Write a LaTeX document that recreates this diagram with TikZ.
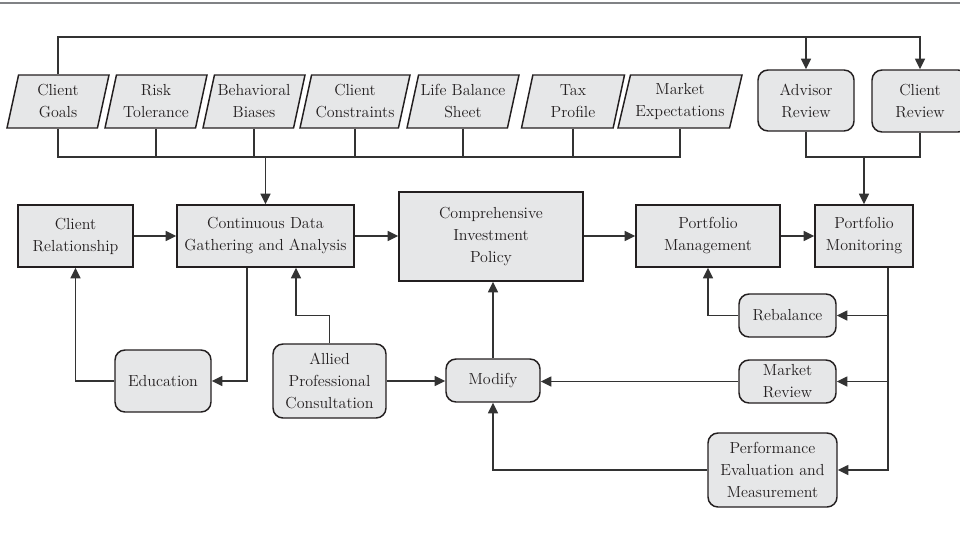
\documentclass[tikz,border=0pt]{standalone}
\usepackage{tikz}
\usetikzlibrary{positioning,shapes.geometric,arrows.meta}
\definecolor{boxfill}{HTML}{E6E7E8}
\definecolor{ink}{HTML}{231F20}
\definecolor{wire}{HTML}{333333}
\definecolor{rule}{HTML}{808285}
\newlength{\pixel}\setlength{\pixel}{0.75pt}

\begin{document}
\begin{tikzpicture}[x=0.75pt,y=-0.75pt,>={Triangle[length=8pt,width=7.5pt]},font=\fontsize{12}{16.5}\selectfont]
  \tikzstyle{box}=[draw=ink,line width=1.1pt,fill=boxfill,text=ink,align=center,inner sep=0pt]
  \tikzstyle{soft}=[box,rounded corners=7.5pt]
  \tikzstyle{slant}=[box,trapezium,trapezium left angle=71,trapezium right angle=109,trapezium stretches body,minimum height=53\pixel]
  \tikzstyle{link}=[draw=wire,line width=1.1pt]

  \useasboundingbox (0,0) rectangle (960,539);
  \draw[rule,line width=2pt] (0,3) -- (960,3);

  \node[slant,minimum width=102\pixel] (goals) at (58,101.5) {Client\\Goals};
  \node[slant,minimum width=102\pixel] (risk) at (156,101.5) {Risk\\Tolerance};
  \node[slant,minimum width=102\pixel] (behav) at (254,101.5) {Behavioral\\Biases};
  \node[slant,minimum width=110\pixel] (constr) at (355,101.5) {Client\\Constraints};
  \node[slant,minimum width=112\pixel] (life) at (463,101.5) {Life Balance\\Sheet};
  \node[slant,minimum width=103\pixel] (tax) at (573,101.5) {Tax\\Profile};
  \node[slant,minimum width=124\pixel] (mexp) at (680,101.5) {Market\\Expectations};

  \node[soft,minimum width=96\pixel,minimum height=61\pixel] (adv) at (806,100.5) {Advisor\\Review};
  \node[soft,minimum width=96\pixel,minimum height=62\pixel] (crev) at (920,101) {Client\\Review};

  \node[box,minimum width=115\pixel,minimum height=62\pixel] (crel) at (75.5,236) {Client\\Relationship};
  \node[box,minimum width=177\pixel,minimum height=62\pixel] (cdga) at (265.5,236) {Continuous Data\\Gathering and Analysis};
  \node[box,minimum width=184\pixel,minimum height=89\pixel] (cip) at (491,236.5) {Comprehensive\\Investment\\Policy};
  \node[box,minimum width=144\pixel,minimum height=62\pixel] (pmgmt) at (708,236) {Portfolio\\Management};
  \node[box,minimum width=98\pixel,minimum height=62\pixel] (pmon) at (864,236) {Portfolio\\Monitoring};

  \node[soft,minimum width=96\pixel,minimum height=62\pixel] (edu) at (163,381) {Education};
  \node[soft,minimum width=113\pixel,minimum height=74\pixel] (allied) at (329.5,381) {Allied\\Professional\\Consultation};
  \node[soft,minimum width=94\pixel,minimum height=43\pixel] (modify) at (493,380.5) {Modify};
  \node[soft,minimum width=97\pixel,minimum height=43\pixel] (rebal) at (787.5,315.5) {Rebalance};
  \node[soft,minimum width=97\pixel,minimum height=43\pixel] (mrev) at (787.5,381.5) {Market\\Review};
  \node[soft,minimum width=129\pixel,minimum height=74\pixel] (perf) at (772.5,470) {Performance\\Evaluation and\\Measurement};

  \coordinate (topbus) at (920,37);
  \coordinate (inbus) at (265.5,157);
  \coordinate (revbus) at (864,157);
  \coordinate (spine) at ([xshift=24\pixel]pmon.south);

  \draw[link,->] (goals.north) |- (topbus) -- (crev.north);
  \draw[link,->] (adv.north |- topbus) -- (adv.north);

  \draw[link] (goals.south) |- (inbus) -| (mexp.south);
  \foreach \n in {risk,behav,constr,life,tax}
    \draw[link] (\n.south) -- (\n.south |- inbus);
  \draw[link,->] (inbus) -- (cdga.north);

  \draw[link] (adv.south) |- (revbus) -| (crev.south);
  \draw[link,->] (revbus) -- (pmon.north);

  \draw[link,->] (crel) -- (cdga);
  \draw[link,->] (cdga) -- (cdga.east -| cip.west);
  \draw[link,->] (cip.east |- pmgmt.west) -- (pmgmt);
  \draw[link,->] (pmgmt) -- (pmon);

  \draw[link,->] ([xshift=-18.5\pixel]cdga.south) |- (edu.east);
  \draw[link,->] (edu.west) -| (crel.south);
  \draw[link,->] (allied.north) -- ++(0,-28) -| ([xshift=30.5\pixel]cdga.south);
  \draw[link,->] (allied.east) -- (allied.east -| modify.west);
  \draw[link,->] (modify.north) -- (modify.north |- cip.south);

  \draw[link,->] (spine) |- (perf.east);
  \draw[link,->] (rebal.east -| spine) -- (rebal.east);
  \draw[link,->] (mrev.east -| spine) -- (mrev.east);
  \draw[link,->] (rebal.west) -| (pmgmt.south);
  \draw[link,->] (mrev.west) -- (mrev.west -| modify.east);
  \draw[link,->] (perf.west) -| (modify.south);
\end{tikzpicture}
\end{document}
